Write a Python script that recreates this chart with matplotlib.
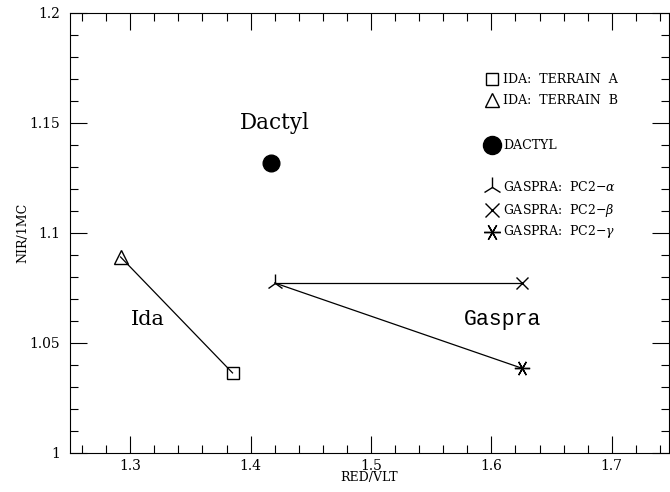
import matplotlib
matplotlib.use("Agg")
import matplotlib.pyplot as plt
from matplotlib.ticker import MultipleLocator

plt.rcParams["font.family"] = ["DejaVu Serif"]
plt.rcParams["mathtext.fontset"] = "dejavuserif"

# Colour ratios (RED/VLT, NIR/1MC)
ida_terrain_a = (1.385, 1.0364)
ida_terrain_b = (1.292, 1.0891)
dactyl = (1.417, 1.1318)
gaspra_alpha = (1.420, 1.0773)
gaspra_beta = (1.625, 1.0773)
gaspra_gamma = (1.625, 1.0386)

legend_labels = [
    "IDA:  TERRAIN  A",
    "IDA:  TERRAIN  B",
    "DACTYL",
    r"GASPRA:  PC2$-\alpha$",
    r"GASPRA:  PC2$-\beta$",
    r"GASPRA:  PC2$-\gamma$",
]

fig = plt.figure(figsize=(6.7, 4.92), dpi=100)
ax = fig.add_axes([70 / 670, 1 - 453 / 492, 599 / 670, 440 / 492])

lw = 0.9
mk = dict(color="black", markerfacecolor="none", markeredgecolor="black",
          markeredgewidth=1.0, linestyle="none")

# Ida: two terrains joined by a line
ax.plot([ida_terrain_b[0], ida_terrain_a[0]], [ida_terrain_b[1], ida_terrain_a[1]],
        color="black", lw=lw)
ax.plot(*ida_terrain_a, marker="s", markersize=8.5, **mk)
ax.plot(*ida_terrain_b, marker="^", markersize=9.5, **mk)

# Dactyl
ax.plot(*dactyl, marker="o", markersize=12, color="black", linestyle="none")

# Gaspra colour units
ax.plot([gaspra_alpha[0], gaspra_beta[0]], [gaspra_alpha[1], gaspra_beta[1]],
        color="black", lw=lw)
ax.plot([gaspra_alpha[0], gaspra_gamma[0]], [gaspra_alpha[1], gaspra_gamma[1]],
        color="black", lw=lw)
ax.plot(*gaspra_alpha, marker="2", markersize=13, **mk)
ax.plot(*gaspra_beta, marker="x", markersize=9, **mk)
ax.plot(*gaspra_gamma, marker=(6, 2, 90), markersize=11, **mk)

# Group labels
ax.text(1.42, 1.150, "Dactyl", fontsize=15.5, ha="center", va="center")
ax.text(1.315, 1.0605, "Ida", fontsize=15, ha="center", va="center")
ax.text(1.609, 1.0605, "Gaspra", fontsize=15.5, ha="center", va="center",
        family="Liberation Mono")

# Key in the upper right
key_markers = [
    dict(marker="s", markersize=9, markerfacecolor="none"),
    dict(marker="^", markersize=10, markerfacecolor="none"),
    dict(marker="o", markersize=13, markerfacecolor="black"),
    dict(marker="2", markersize=14, markerfacecolor="none"),
    dict(marker="x", markersize=10, markerfacecolor="none"),
    dict(marker=(6, 2, 90), markersize=12, markerfacecolor="none"),
]
key_rows_px = [79, 100, 145, 187, 210, 232]
for lab, kmk, ypx in zip(legend_labels, key_markers, key_rows_px):
    yax = (453 - ypx) / 440
    ax.plot([(492 - 70) / 599], [yax], transform=ax.transAxes, color="black",
            markeredgecolor="black", markeredgewidth=1.0, linestyle="none",
            clip_on=False, **kmk)
    ax.text((503 - 70) / 599, yax, lab, transform=ax.transAxes, fontsize=9,
            ha="left", va="center")

ax.set_xlim(1.25, 1.7475)
ax.set_ylim(1.0, 1.2)
ax.xaxis.set_major_locator(MultipleLocator(0.1))
ax.xaxis.set_minor_locator(MultipleLocator(0.02))
ax.yaxis.set_major_locator(MultipleLocator(0.05))
ax.yaxis.set_minor_locator(MultipleLocator(0.01))
ax.set_xticks([1.3, 1.4, 1.5, 1.6, 1.7])
ax.set_xticklabels(["1.3", "1.4", "1.5", "1.6", "1.7"])
ax.set_yticks([1.0, 1.05, 1.1, 1.15, 1.2])
ax.set_yticklabels(["1", "1.05", "1.1", "1.15", "1.2"])
ax.tick_params(which="both", direction="in", top=True, right=True,
               labelsize=10, width=0.8, color="black")
ax.tick_params(which="major", length=12)
ax.tick_params(axis="x", which="major", pad=4)
ax.tick_params(axis="y", which="major", pad=7)
ax.tick_params(which="minor", length=6)
for s in ax.spines.values():
    s.set_linewidth(0.8)

ax.set_xlabel("RED/VLT", fontsize=9, labelpad=-1)
ax.set_ylabel("NIR/1MC", fontsize=9, labelpad=0)

fig.savefig("out.png", dpi=100)
